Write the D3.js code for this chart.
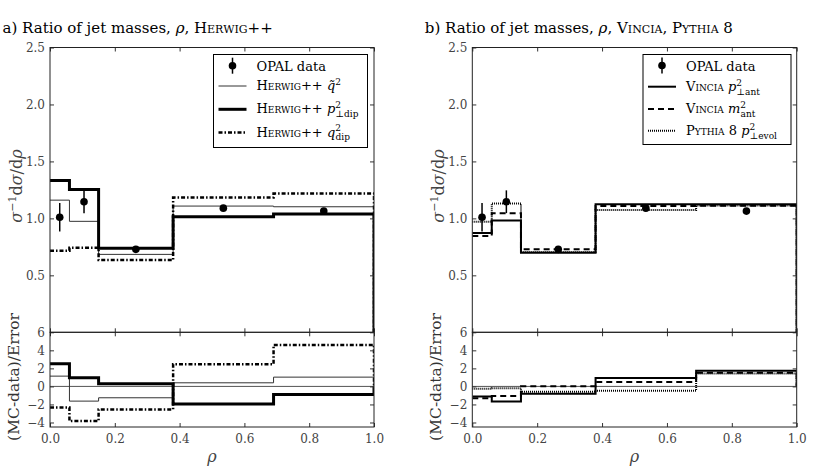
<!DOCTYPE html>
<html lang="en">
<head>
<meta charset="UTF-8">
<title>Ratio of jet masses</title>
<script src="https://d3js.org/d3.v7.min.js"></script>
<style>
  body { margin: 0; background: #fff; }
  .sc { font-variant: small-caps; }
</style>
</head>
<body>
<script>

// bin edges and data points
var binEdges = [0, 0.06, 0.15, 0.38, 0.69, 1.0];
var dataX = [0.03, 0.105, 0.265, 0.535, 0.845];
var dataY = [1.01, 1.146, 0.728, 1.09, 1.064];
var dataErr = [0.125, 0.10, 0.02, 0.02, 0.02];

// panel a) Herwig++
var herwigQtilde = [1.16, 0.974, 0.684, 1.108, 1.102];
var herwigPtDip = [1.333, 1.254, 0.737, 1.014, 1.038];
var herwigQDip = [0.716, 0.742, 0.634, 1.184, 1.219];
var herwigQtildeDev = [1.14, -1.63, -1.26, 0.40, 1.03];
var herwigPtDipDev = [2.5, 0.95, 0.29, -1.96, -0.89];
var herwigQDipDev = [-2.33, -3.84, -2.55, 2.47, 4.6];

// panel b) Vincia, Pythia 8
var vinciaPtAnt = [0.871, 0.982, 0.698, 1.125, 1.125];
var vinciaMAnt = [0.845, 1.044, 0.728, 1.108, 1.11];
var pythiaPtEvol = [0.97, 1.131, 0.704, 1.073, 1.114];
var vinciaPtAntDev = [-1.11, -1.66, -0.82, 0.92, 1.73];
var vinciaMAntDev = [-1.3, -1.07, 0.03, 0.48, 1.51];
var pythiaPtEvolDev = [-0.26, -0.19, -0.6, -0.49, 1.44];

var mainTicks = [0.5, 1.0, 1.5, 2.0, 2.5];
var devTicks = [-4, -2, 0, 2, 4, 6];
var xTicks = [0, 0.2, 0.4, 0.6, 0.8, 1.0];

var width = 830, height = 475;
var yTop = 47.5, yMid = 332.3, yBot = 427;
var FONT = "DejaVu Serif";

var svg = d3.select("body").append("svg")
    .attr("width", width)
    .attr("height", height)
    .attr("font-family", FONT);

var defs = svg.append("defs");

// line styles
var styles = {
    thin:    { w: 1,   dash: null, color: "#333" },
    thick:   { w: 3,   dash: null, color: "#000" },
    dashdot: { w: 2.5, dash: "4,2,1.5,2", color: "#000" },
    solid:   { w: 2,   dash: null, color: "#000" },
    dashed:  { w: 2,   dash: "6,4", color: "#000" },
    dotted:  { w: 2,   dash: "1,1", color: "#000" }
};

var panels = [
    {
        x0: 50, x1: 374,
        title: [{t: "a) Ratio of jet masses, "}, {t: "ρ", it: true}, {t: ", "}, {t: "Herwig++", sc: true}],
        series: [
            { main: herwigQtilde, dev: herwigQtildeDev, style: "thin",
              label: [{t: "Herwig++", sc: true}, {t: " "}, {t: "q\u0303", it: true}, {t: "2", sup: true}] },
            { main: herwigPtDip, dev: herwigPtDipDev, style: "thick",
              label: [{t: "Herwig++", sc: true}, {t: " "}, {t: "p", it: true}, {t: "2", sup: true}, {t: "⊥dip", sub: true}] },
            { main: herwigQDip, dev: herwigQDipDev, style: "dashdot",
              label: [{t: "Herwig++", sc: true}, {t: " "}, {t: "q", it: true}, {t: "2", sup: true}, {t: "dip", sub: true}] }
        ],
        legend: { x: 213.5, y: 54.5, w: 154, h: 93, rows: [65.7, 86, 109.3, 132.5] }
    },
    {
        x0: 472.3, x1: 796.7,
        title: [{t: "b) Ratio of jet masses, "}, {t: "ρ", it: true}, {t: ", "}, {t: "Vincia", sc: true}, {t: ", "}, {t: "Pythia", sc: true}, {t: " 8"}],
        series: [
            { main: vinciaPtAnt, dev: vinciaPtAntDev, style: "solid",
              label: [{t: "Vincia", sc: true}, {t: " "}, {t: "p", it: true}, {t: "2", sup: true}, {t: "⊥ant", sub: true}] },
            { main: vinciaMAnt, dev: vinciaMAntDev, style: "dashed",
              label: [{t: "Vincia", sc: true}, {t: " "}, {t: "m", it: true}, {t: "2", sup: true}, {t: "ant", sub: true}] },
            { main: pythiaPtEvol, dev: pythiaPtEvolDev, style: "dotted",
              label: [{t: "Pythia", sc: true}, {t: " 8 "}, {t: "p", it: true}, {t: "2", sup: true}, {t: "⊥evol", sub: true}] }
        ],
        legend: { x: 643, y: 54.5, w: 148, h: 90, rows: [65.5, 86.7, 109, 130.7] }
    }
];

// write a small piece of math-ish text as tspans
function richText(sel, parts, size) {
    var small = Math.round(size * 0.7);
    var shift = 0;     // current baseline offset
    parts.forEach(function(p) {
        var ts = sel.append("tspan").text(p.t);
        if (p.it) ts.attr("font-style", "italic");
        if (p.sc) ts.attr("class", "sc");
        if (p.sup) {
            var up = -size * 0.4;
            ts.attr("font-size", small).attr("dy", up - shift);
            shift = up;
        } else if (p.sub) {
            var down = size * 0.3;
            ts.attr("font-size", small).attr("dx", -small * 0.6).attr("dy", down - shift);
            shift = down;
        } else if (shift !== 0) {
            ts.attr("dy", -shift);
            shift = 0;
        }
    });
}

function stepPath(x, y, vals, base) {
    var pts = binEdges.slice(0, -1).map(function(e, i) { return [e, vals[i]]; });
    pts.push([1.0, vals[vals.length - 1]]);
    if (base !== null) pts.push([1.0, base]);
    return d3.line()
        .x(function(d) { return x(d[0]); })
        .y(function(d) { return y(d[1]); })
        .curve(d3.curveStepAfter)(pts);
}

function styleLine(sel, st) {
    sel.attr("fill", "none")
        .attr("stroke", styles[st].color)
        .attr("stroke-width", styles[st].w)
        .attr("stroke-dasharray", styles[st].dash);
}

function innerTicks(g, axis) {
    g.call(axis);
    g.attr("font-family", FONT).attr("font-size", 12);
    g.select(".domain").remove();
    g.selectAll(".tick line").attr("stroke", "#333");
    g.selectAll(".tick text").attr("fill", "#444");
}

panels.forEach(function(p, pi) {
    var x = d3.scaleLinear().domain([0, 1]).range([p.x0, p.x1]);
    var yMain = d3.scaleLinear().domain([0, 2.5]).range([yMid, yTop]);
    var yDev = d3.scaleLinear().domain([-4.5, 6]).range([yBot, yMid]);

    defs.append("clipPath").attr("id", "clipMain" + pi)
        .append("rect").attr("x", p.x0).attr("y", yTop).attr("width", p.x1 - p.x0).attr("height", yMid - yTop);
    defs.append("clipPath").attr("id", "clipDev" + pi)
        .append("rect").attr("x", p.x0).attr("y", yMid).attr("width", p.x1 - p.x0).attr("height", yBot - yMid);

    var g = svg.append("g");

    // title
    var title = g.append("text")
        .attr("x", p.x0 - 47.5)
        .attr("y", 33)
        .attr("font-size", 15)
        .attr("fill", "#000");
    richText(title, p.title, 15);

    // zero line of deviation plot
    g.append("line")
        .attr("x1", p.x0).attr("x2", p.x1)
        .attr("y1", yDev(0)).attr("y2", yDev(0))
        .attr("stroke", "#555").attr("stroke-width", 1);

    // histograms
    var mainG = g.append("g").attr("clip-path", "url(#clipMain" + pi + ")");
    var devG = g.append("g").attr("clip-path", "url(#clipDev" + pi + ")");
    p.series.forEach(function(s) {
        mainG.append("path").attr("d", stepPath(x, yMain, s.main, 0)).call(styleLine, s.style);
        devG.append("path").attr("d", stepPath(x, yDev, s.dev, 0)).call(styleLine, s.style);
    });

    // data points
    var pts = g.append("g");
    dataX.forEach(function(dx, i) {
        pts.append("line")
            .attr("x1", x(dx)).attr("x2", x(dx))
            .attr("y1", yMain(dataY[i] - dataErr[i])).attr("y2", yMain(dataY[i] + dataErr[i]))
            .attr("stroke", "#000").attr("stroke-width", 1.5);
        pts.append("circle")
            .attr("cx", x(dx)).attr("cy", yMain(dataY[i]))
            .attr("r", 3.8).attr("fill", "#000");
    });

    // axes, ticks point inwards
    g.append("g").attr("transform", "translate(" + p.x0 + ",0)")
        .call(innerTicks, d3.axisLeft(yMain).tickValues(mainTicks).tickSize(-4).tickPadding(5).tickFormat(d3.format(".1f")));
    g.append("g").attr("transform", "translate(" + p.x1 + ",0)")
        .call(innerTicks, d3.axisRight(yMain).tickValues(mainTicks).tickSize(-4).tickFormat(""));
    g.append("g").attr("transform", "translate(" + p.x0 + ",0)")
        .call(innerTicks, d3.axisLeft(yDev).tickValues(devTicks).tickSize(-4).tickPadding(5).tickFormat(d3.format("d")));
    g.append("g").attr("transform", "translate(" + p.x1 + ",0)")
        .call(innerTicks, d3.axisRight(yDev).tickValues(devTicks).tickSize(-4).tickFormat(""));
    g.append("g").attr("transform", "translate(0," + yTop + ")")
        .call(innerTicks, d3.axisTop(x).tickValues(xTicks).tickSize(-4).tickFormat(""));
    g.append("g").attr("transform", "translate(0," + yMid + ")")
        .call(innerTicks, d3.axisBottom(x).tickValues(xTicks).tickSize(-4).tickFormat(""));
    g.append("g").attr("transform", "translate(0," + yMid + ")")
        .call(innerTicks, d3.axisTop(x).tickValues(xTicks).tickSize(-4).tickFormat(""));
    g.append("g").attr("transform", "translate(0," + yBot + ")")
        .call(innerTicks, d3.axisBottom(x).tickValues(xTicks).tickSize(-4).tickPadding(7.5).tickFormat(d3.format(".1f")));

    // frames
    [[yTop, yMid], [yMid, yBot]].forEach(function(r) {
        g.append("rect")
            .attr("x", p.x0).attr("y", r[0])
            .attr("width", p.x1 - p.x0).attr("height", r[1] - r[0])
            .attr("fill", "none").attr("stroke", "#222").attr("stroke-width", 1);
    });

    // axis labels
    var yl = g.append("text")
        .attr("transform", "translate(" + (p.x0 - 28) + ",186) rotate(-90)")
        .attr("text-anchor", "middle")
        .attr("font-size", 16)
        .attr("fill", "#444");
    richText(yl, [{t: "σ", it: true}, {t: "−1", sup: true}, {t: "d"}, {t: "σ", it: true}, {t: "/d"}, {t: "ρ", it: true}], 16);

    g.append("text")
        .attr("transform", "translate(" + (p.x0 - 31) + ",377) rotate(-90)")
        .attr("text-anchor", "middle")
        .attr("font-size", 15.5)
        .attr("fill", "#333")
        .text("(MC-data)/Error");

    g.append("text")
        .attr("x", (p.x0 + p.x1) / 2)
        .attr("y", 462)
        .attr("text-anchor", "middle")
        .attr("font-size", 16)
        .attr("font-style", "italic")
        .attr("fill", "#444")
        .text("ρ");

    // legend
    var L = p.legend;
    var lg = g.append("g");
    lg.append("rect")
        .attr("x", L.x).attr("y", L.y).attr("width", L.w).attr("height", L.h)
        .attr("fill", "#fff").attr("stroke", "#000").attr("stroke-width", 1);
    var hx0 = L.x + 5, hx1 = L.x + 33, tx = L.x + 43;
    var mx = (hx0 + hx1) / 2;
    lg.append("line")
        .attr("x1", mx).attr("x2", mx).attr("y1", L.rows[0] - 8).attr("y2", L.rows[0] + 8)
        .attr("stroke", "#000").attr("stroke-width", 1.5);
    lg.append("circle").attr("cx", mx).attr("cy", L.rows[0]).attr("r", 3.8).attr("fill", "#000");
    lg.append("text").attr("x", tx).attr("y", L.rows[0] + 5).attr("font-size", 13).text("OPAL data");
    p.series.forEach(function(s, i) {
        var yy = L.rows[i + 1];
        lg.append("line")
            .attr("x1", hx0).attr("x2", hx1).attr("y1", yy).attr("y2", yy)
            .call(styleLine, s.style);
        var t = lg.append("text").attr("x", tx).attr("y", yy + 4).attr("font-size", 13);
        richText(t, s.label, 13);
    });
});

</script>
</body>
</html>
